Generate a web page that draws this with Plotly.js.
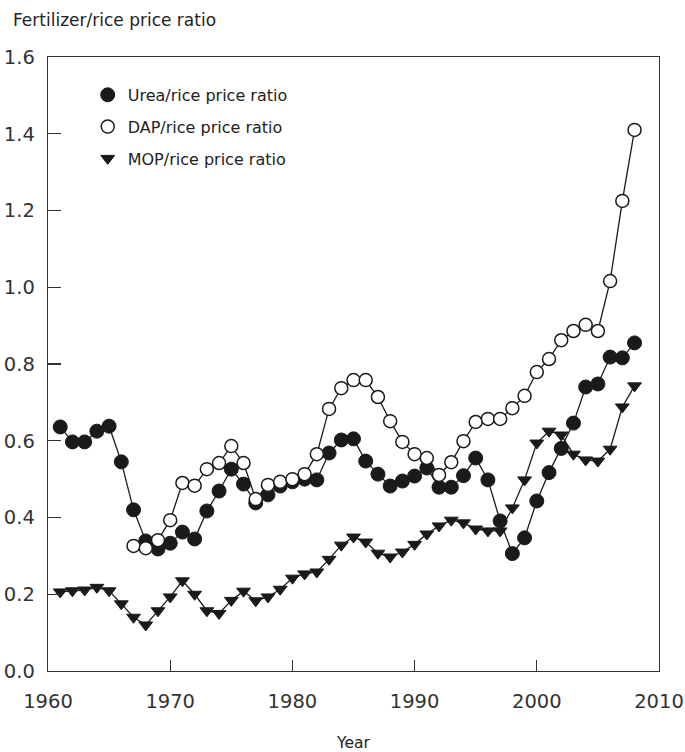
<!DOCTYPE html>
<html>
<head>
<meta charset="utf-8">
<script src="https://cdn.plot.ly/plotly-3.0.1.min.js"></script>
<style>html,body{margin:0;padding:0;background:#fff;}#chart{width:685px;height:752px;}</style>
</head>
<body>
<div id="chart"></div>
<script>
var years = [1961,1962,1963,1964,1965,1966,1967,1968,1969,1970,1971,1972,1973,1974,1975,1976,1977,1978,1979,1980,1981,1982,1983,1984,1985,1986,1987,1988,1989,1990,1991,1992,1993,1994,1995,1996,1997,1998,1999,2000,2001,2002,2003,2004,2005,2006,2007,2008];
var urea = [0.636,0.597,0.597,0.625,0.638,0.545,0.420,0.339,0.318,0.333,0.362,0.344,0.417,0.469,0.526,0.487,0.438,0.459,0.482,0.493,0.500,0.498,0.568,0.602,0.605,0.547,0.513,0.482,0.495,0.508,0.529,0.479,0.479,0.509,0.555,0.498,0.391,0.306,0.347,0.443,0.517,0.580,0.646,0.740,0.748,0.818,0.816,0.855];
var dapYears = [1967,1968,1969,1970,1971,1972,1973,1974,1975,1976,1977,1978,1979,1980,1981,1982,1983,1984,1985,1986,1987,1988,1989,1990,1991,1992,1993,1994,1995,1996,1997,1998,1999,2000,2001,2002,2003,2004,2005,2006,2007,2008];
var dap = [0.326,0.320,0.341,0.393,0.490,0.483,0.526,0.542,0.586,0.542,0.448,0.485,0.493,0.500,0.513,0.565,0.683,0.737,0.758,0.758,0.714,0.651,0.597,0.565,0.555,0.511,0.544,0.599,0.649,0.657,0.657,0.685,0.717,0.779,0.813,0.862,0.886,0.902,0.886,1.016,1.225,1.410];
var mop = [0.206,0.209,0.211,0.218,0.209,0.175,0.140,0.120,0.157,0.193,0.235,0.200,0.157,0.150,0.184,0.208,0.183,0.193,0.213,0.242,0.253,0.258,0.291,0.328,0.349,0.336,0.307,0.297,0.310,0.330,0.357,0.378,0.393,0.386,0.370,0.365,0.365,0.425,0.498,0.594,0.625,0.615,0.565,0.550,0.547,0.578,0.688,0.743];
var names = ['Urea/rice price ratio','DAP/rice price ratio','MOP/rice price ratio'];

var FONT = 'DejaVu Sans, Verdana, sans-serif';
var lineStyle = {color:'#1a1a1a', width:1.3};
var series = [
  {x: years, y: urea, marker:{symbol:'circle', size:14, color:'#1a1a1a', line:{color:'#1a1a1a', width:1}}},
  {x: dapYears, y: dap, marker:{symbol:'circle', size:13, color:'#ffffff', line:{color:'#1a1a1a', width:1.5}}},
  {x: years, y: mop, marker:{symbol:'triangle-down', size:12, color:'#1a1a1a', line:{color:'#1a1a1a', width:1}}}
];
var traces = [];
series.forEach(function(s){
  traces.push({x:s.x, y:s.y, mode:'lines', line:lineStyle, showlegend:false, hoverinfo:'skip'});
});
series.forEach(function(s, i){
  traces.push({x:s.x, y:s.y, mode:'markers', name:names[i], legendgroup:'g'+i, marker:s.marker});
});

var tickFont = {family:FONT, size:19.5, color:'#333'};
var layout = {
  width:685, height:752,
  margin:{l:48, r:26, t:57, b:81},
  paper_bgcolor:'#fff', plot_bgcolor:'#fff',
  showlegend:true,
  legend:{x:0.065, y:0.966, xanchor:'left', yanchor:'top', tracegroupgap:8,
    font:{family:FONT, size:16, color:'#222'}, bgcolor:'rgba(0,0,0,0)'},
  xaxis:{range:[1960,2010], tickvals:[1960,1970,1980,1990,2000,2010], ticks:'inside', ticklen:11, tickwidth:1.3,
    tickcolor:'#333', showline:true, linecolor:'#333', linewidth:1.3, mirror:true, showgrid:false, zeroline:false,
    tickfont:tickFont, ticklabelstandoff:12,
    title:{text:'Year', font:{family:FONT, size:15.5, color:'#222'}, standoff:33}},
  yaxis:{range:[0,1.6], tickvals:[0,0.2,0.4,0.6,0.8,1.0,1.2,1.4,1.6], tickformat:'.1f', ticks:'inside', ticklen:13, tickwidth:1.3,
    tickcolor:'#333', showline:true, linecolor:'#333', linewidth:1.3, mirror:true, showgrid:false, zeroline:false,
    tickfont:tickFont, ticklabelstandoff:8},
  annotations:[{text:'Fertilizer/rice price ratio', xref:'paper', yref:'paper', x:-0.06, y:1.04, xanchor:'left', yanchor:'bottom',
    showarrow:false, font:{family:FONT, size:17, color:'#222'}}]
};
Plotly.newPlot('chart', traces, layout, {displayModeBar:false, staticPlot:true});
</script>
</body>
</html>
